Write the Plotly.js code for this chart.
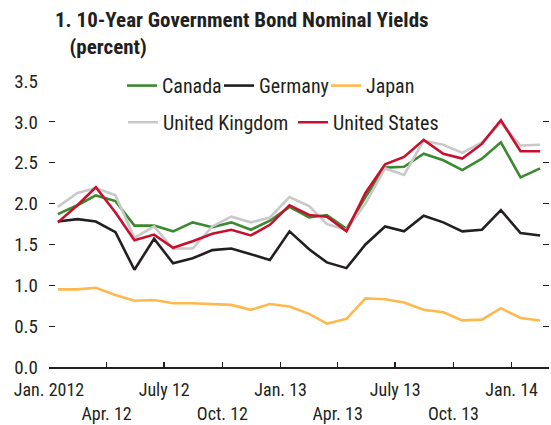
<!DOCTYPE html>
<html>
<head>
<meta charset="utf-8">
<script src="https://cdn.plot.ly/plotly-3.0.1.min.js"></script>
<style>
  html, body { margin: 0; padding: 0; background: #ffffff; }
  #chart { width: 551px; height: 425px; }
</style>
</head>
<body>
<div id="chart"></div>
<script>
// Monthly observations, Jan. 2012 - Feb. 2014 (plotted mid-month)
const months = [
  '2012-01-15','2012-02-15','2012-03-15','2012-04-15','2012-05-15','2012-06-15',
  '2012-07-15','2012-08-15','2012-09-15','2012-10-15','2012-11-15','2012-12-15',
  '2013-01-15','2013-02-15','2013-03-15','2013-04-15','2013-05-15','2013-06-15',
  '2013-07-15','2013-08-15','2013-09-15','2013-10-15','2013-11-15','2013-12-15',
  '2014-01-15','2014-02-15'
];

const canada  = [1.87,1.98,2.10,2.03,1.73,1.73,1.66,1.77,1.71,1.77,1.68,1.79,
                 1.96,1.83,1.86,1.69,2.08,2.44,2.45,2.61,2.53,2.41,2.55,2.75,2.32,2.43];
const germany = [1.78,1.81,1.78,1.65,1.19,1.57,1.27,1.33,1.43,1.45,1.38,1.31,
                 1.66,1.44,1.28,1.21,1.50,1.72,1.66,1.85,1.77,1.66,1.68,1.92,1.64,1.61];
const japan   = [0.95,0.95,0.97,0.88,0.81,0.82,0.78,0.78,0.77,0.76,0.70,0.77,
                 0.74,0.65,0.53,0.59,0.84,0.83,0.79,0.70,0.67,0.57,0.58,0.72,0.60,0.57];
const uk      = [1.96,2.13,2.19,2.10,1.58,1.72,1.45,1.45,1.72,1.84,1.77,1.83,
                 2.08,1.97,1.75,1.68,2.00,2.43,2.35,2.77,2.72,2.62,2.75,2.99,2.71,2.72];
const us      = [1.77,1.98,2.20,1.89,1.55,1.62,1.46,1.54,1.63,1.68,1.61,1.74,
                 1.98,1.86,1.84,1.66,2.13,2.48,2.57,2.78,2.61,2.55,2.73,3.02,2.64,2.64];

const seriesNames  = ['Canada','Germany','Japan','United Kingdom','United States'];
const seriesData   = [canada, germany, japan, uk, us];
const seriesColors = ['#3b8a2f','#231f20','#fdb94e','#c9c9c9','#c8102e'];
const legendIds    = ['legend','legend2','legend3','legend4','legend5'];

// x tick positions (quarter starts) and labels, alternating rows
const tickDates  = ['2012-01-01','2012-04-01','2012-07-01','2012-10-01','2013-01-01',
                    '2013-04-01','2013-07-01','2013-10-01','2014-01-01'];
const tickLabels = ['Jan. 2012','Apr. 12','July 12','Oct. 12','Jan. 13',
                    'Apr. 13','July 13','Oct. 13','Jan. 14'];
const yTicks = [0, 0.5, 1.0, 1.5, 2.0, 2.5, 3.0, 3.5];

const FONT = '"Roboto Condensed", "Liberation Sans Narrow", Roboto, sans-serif';
const TXT = '#231f20';

const traces = seriesNames.map((name, k) => ({
  type: 'scatter',
  mode: 'lines',
  name: name,
  legend: legendIds[k],
  x: months,
  y: seriesData[k],
  line: { color: seriesColors[k], width: 2.6 },
  hoverinfo: 'x+y+name'
}));

const ticktext = tickLabels.map((t, i) => i % 2 === 0 ? t + '<br>\u00a0' : '\u00a0<br>' + t);

function legendAt(x, y) {
  return {
    orientation: 'h',
    x: x, xanchor: 'left',
    y: y, yanchor: 'middle',
    bgcolor: 'rgba(0,0,0,0)',
    font: { family: FONT, size: 20, color: TXT },
    itemwidth: 30,
    tracegroupgap: 0
  };
}

const layout = {
  width: 551,
  height: 425,
  margin: { l: 49, r: 2, t: 81, b: 58, pad: 0 },
  paper_bgcolor: '#ffffff',
  plot_bgcolor: '#ffffff',
  font: { family: FONT, size: 19, color: TXT },
  title: {
    text: '<b>1. 10-Year Government Bond Nominal Yields</b><br><b>\u00a0\u00a0\u00a0(percent)</b>',
    font: { family: FONT, size: 21, color: TXT },
    xref: 'container', yref: 'container',
    x: 55 / 551, xanchor: 'left',
    y: 1 - 27 / 425, yanchor: 'top'
  },
  showlegend: true,
  legend:  legendAt(0.146, 0.984),
  legend2: legendAt(0.340, 0.984),
  legend3: legendAt(0.554, 0.984),
  legend4: legendAt(0.148, 0.856),
  legend5: legendAt(0.488, 0.856),
  xaxis: {
    type: 'date',
    range: ['2012-01-01', '2014-03-01'],
    tickvals: tickDates,
    ticktext: ticktext,
    tickmode: 'array',
    tickangle: 0,
    ticks: 'inside',
    ticklen: 5,
    tickwidth: 1.5,
    tickcolor: TXT,
    showline: true,
    linecolor: TXT,
    linewidth: 1.5,
    showgrid: false,
    zeroline: false,
    ticklabelstandoff: 6,
    tickfont: { family: FONT, size: 18, color: TXT },
    fixedrange: true
  },
  yaxis: {
    range: [0, 3.5],
    tickmode: 'array',
    tickvals: yTicks,
    tickformat: '.1f',
    ticks: 'inside',
    ticklen: 6,
    tickwidth: 1.2,
    tickcolor: TXT,
    mirror: 'ticks',
    showline: false,
    showgrid: false,
    zeroline: false,
    ticklabelstandoff: 10,
    tickfont: { family: FONT, size: 19, color: TXT },
    fixedrange: true
  }
};

Plotly.newPlot('chart', traces, layout, { displayModeBar: false, staticPlot: true });
</script>
</body>
</html>
